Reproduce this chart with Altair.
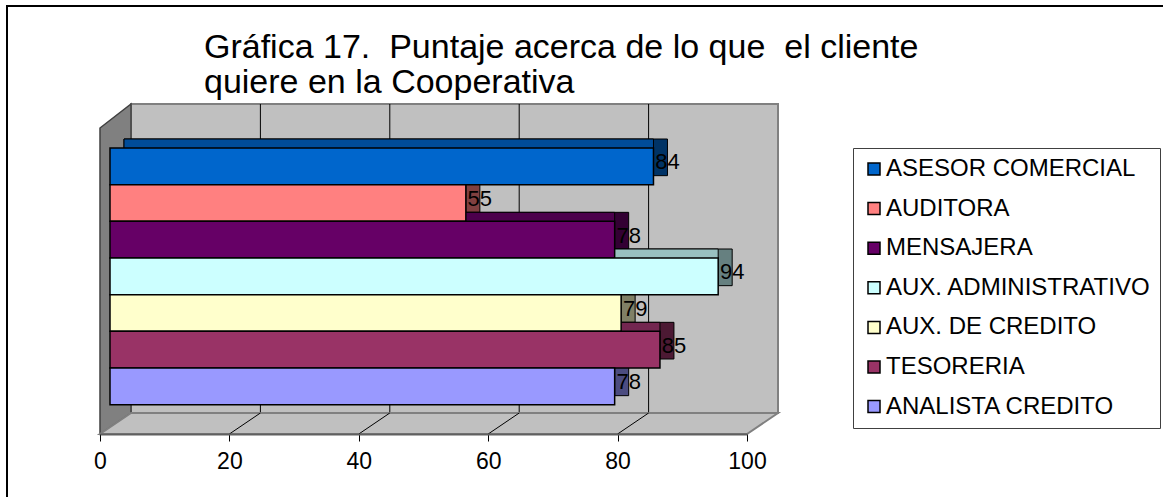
import altair as alt
import pandas as pd

# ---------------- data ----------------
categories = ["ASESOR COMERCIAL", "AUDITORA", "MENSAJERA", "AUX. ADMINISTRATIVO",
              "AUX. DE CREDITO", "TESORERIA", "ANALISTA CREDITO"]
values = [84, 55, 78, 94, 79, 85, 78]
front_colors = ["#0066CC", "#FF8080", "#660066", "#CCFFFF", "#FFFFCC", "#993366", "#9999FF"]
top_colors = ["#004C99", "#BF6060", "#4C004C", "#99C0C0", "#C0C099", "#732650", "#7373BF"]
side_colors = ["#003366", "#804040", "#330033", "#668080", "#808066", "#4C1933", "#4C4C80"]
tick_values = [0, 20, 40, 60, 80, 100]
title_lines = ["Gráfica 17.\u00a0 Puntaje acerca de lo que\u00a0 el cliente",
               "quiere en la Cooperativa"]

# ---------------- layout (pixels) ----------------
W, H = 647, 330
U = 100 / W            # data units per pixel on x
WALL_DX, WALL_TOP, WALL_BOTTOM, SIDE_TOP = 31, 0, 309, 24
FONT = "Liberation Sans"

df = pd.DataFrame({"cat": categories, "value": values,
                   "front": front_colors, "top": top_colors, "side": side_colors})

xscale = alt.Scale(domain=[0, 100], nice=False, zero=True)
xaxis = alt.Axis(values=tick_values, grid=False, title=None, labelFontSize=23,
                 labelFont=FONT, labelColor="#000", tickColor="#000", tickSize=7,
                 tickWidth=1, labelPadding=9, domainColor="#606060", domainWidth=2,
                 labelFlush=False, zindex=1)
yband = alt.Scale(type="band", domain=categories, paddingInner=0, paddingOuter=1, align=0.6)
ypix = alt.Scale(domain=[0, H], reverse=True, nice=False, zero=False)

# ---------------- decoration: frame, title, walls, floor ----------------
one = pd.DataFrame({"a": [0]})
border = alt.Chart(one).mark_rect(
    fillOpacity=0, stroke="#000", strokeWidth=2
).encode(x=alt.value(-93), x2=alt.value(1090), y=alt.value(-98), y2=alt.value(420))

title = alt.Chart(one).mark_text(
    align="left", baseline="alphabetic", fontSize=34, font=FONT, color="#000",
    lineHeight=35
).encode(x=alt.value(104), y=alt.value(-46), text=alt.value(title_lines))

wall_df = pd.DataFrame({"x0": [WALL_DX * U], "x1": [100 + WALL_DX * U],
                        "y0": [WALL_TOP], "y1": [WALL_BOTTOM]})
back_wall = alt.Chart(wall_df).mark_rect(fill="#C0C0C0", stroke="#808080", strokeWidth=2).encode(
    x=alt.X("x0:Q", scale=xscale, axis=xaxis), x2="x1:Q",
    y=alt.Y("y0:Q", scale=ypix, axis=None), y2="y1:Q")

grid_df = pd.DataFrame({"t": tick_values[1:-1]})
grid_df["tb"] = grid_df["t"] + WALL_DX * U
grid_df["ya"] = WALL_TOP
grid_df["yb"] = WALL_BOTTOM
grid_df["yf"] = H
back_grid = alt.Chart(grid_df).mark_rule(color="#000", strokeWidth=1).encode(
    x=alt.X("tb:Q", scale=xscale, axis=xaxis),
    y=alt.Y("ya:Q", scale=ypix, axis=None), y2="yb:Q")

side_df = pd.DataFrame({"x": [0, WALL_DX * U], "ya": [SIDE_TOP, WALL_TOP], "yb": [H, WALL_BOTTOM]})
side_wall = alt.Chart(side_df).mark_area(fill="#808080", stroke="#404040", strokeWidth=1.5).encode(
    x=alt.X("x:Q", scale=xscale, axis=xaxis),
    y=alt.Y("ya:Q", scale=ypix, axis=None), y2="yb:Q")

floor_df = pd.DataFrame({"y": [WALL_BOTTOM, H], "xa": [WALL_DX * U, 0], "xb": [100 + WALL_DX * U, 100]})
floor = alt.Chart(floor_df).mark_area(orient="horizontal", fill="#C0C0C0",
                                      stroke="#808080", strokeWidth=2).encode(
    y=alt.Y("y:Q", scale=ypix, axis=None),
    x=alt.X("xa:Q", scale=xscale, axis=xaxis), x2="xb:Q")

floor_grid = alt.Chart(grid_df).mark_rule(color="#000", strokeWidth=1).encode(
    x=alt.X("tb:Q", scale=xscale, axis=xaxis), x2="t:Q",
    y=alt.Y("yb:Q", scale=ypix, axis=None), y2="yf:Q")

# ---------------- 3D-looking bars ----------------
base = alt.Chart(df)
ycat = alt.Y("cat:N", scale=yband, axis=None, sort=categories)
bar_side = base.mark_bar(xOffset=24, x2Offset=24, yOffset=-9, y2Offset=-9,
                         stroke="#000", strokeWidth=1).encode(
    x=alt.X("value:Q", scale=xscale, axis=xaxis), x2=alt.datum(0), y=ycat,
    fill=alt.Fill("side:N", scale=None))
bar_top = base.mark_bar(xOffset=10, x2Offset=24, yOffset=-9, y2Offset=-9,
                        stroke="#000", strokeWidth=1).encode(
    x=alt.X("value:Q", scale=xscale, axis=xaxis), x2=alt.datum(0), y=ycat,
    fill=alt.Fill("top:N", scale=None))
bar_front = base.mark_bar(xOffset=10, x2Offset=10, stroke="#000", strokeWidth=1.5,
                          opacity=1).encode(
    x=alt.X("value:Q", scale=xscale, axis=xaxis), x2=alt.datum(0), y=ycat,
    color=alt.Color("cat:N", scale=alt.Scale(domain=categories, range=front_colors),
                    legend=alt.Legend(title=None, orient="none", legendX=753, legendY=44,
                                      labelFontSize=24, labelFont=FONT, labelColor="#000",
                                      symbolType="square", symbolSize=144,
                                      symbolStrokeColor="#000", symbolStrokeWidth=1.5,
                                      labelOffset=0, rowPadding=15.6, padding=9,
                                      strokeColor="#404040", fillColor="white",
                                      labelLimit=400)))
labels = base.mark_text(dx=24, dy=-4, fontSize=22, font=FONT, color="#000",
                        align="center", baseline="middle").encode(
    x=alt.X("value:Q", scale=xscale, axis=xaxis), y=ycat, text="value:Q")

chart = alt.layer(
    border, title, back_wall, back_grid, side_wall, floor, floor_grid,
    bar_side, bar_top, bar_front, labels
).resolve_scale(y="independent").properties(
    width=W, height=H,
    autosize=alt.AutoSizeParams(type="none"),
    padding={"left": 100, "top": 104, "right": 416, "bottom": 63},
    background="white",
).configure_view(strokeWidth=0)

chart.save("out.html", embed_options={"renderer": "svg", "actions": False})
